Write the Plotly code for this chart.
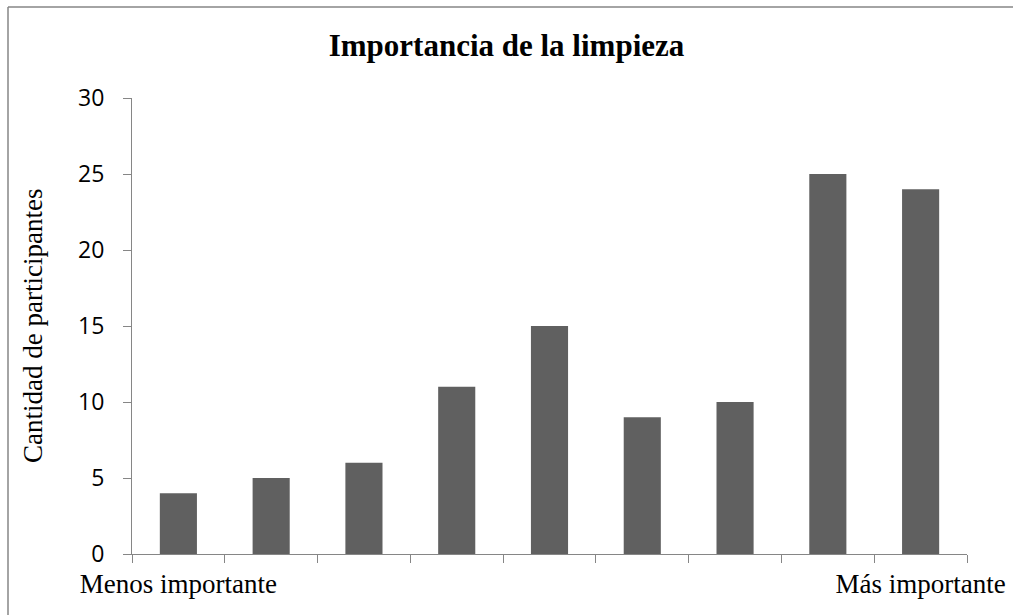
import plotly.graph_objects as go

categories = ["1", "2", "3", "4", "5", "6", "7", "8", "9"]
values = [4, 5, 6, 11, 15, 9, 10, 25, 24]
tick_labels = ["Menos importante", "", "", "", "", "", "", "", "Más importante"]
y_ticks = [0, 5, 10, 15, 20, 25, 30]

W, H = 1013, 615
ml, mr, mt, mb = 132, 46, 98, 61
pw, ph = W - ml - mr, H - mt - mb

axis_col = "#868686"
serif = "Liberation Serif, Times New Roman, serif"
sans = "Open Sans, sans-serif"

fig = go.Figure(go.Bar(x=categories, y=values, marker=dict(color="#606060", line=dict(width=0))))

fig.update_layout(
    width=W, height=H,
    margin=dict(l=ml, r=mr, t=mt, b=mb, autoexpand=False),
    paper_bgcolor="white", plot_bgcolor="white",
    bargap=0.6,
    showlegend=False,
    title=dict(text="<b>Importancia de la limpieza</b>", x=0.5, xref="container", xanchor="center",
               y=1 - 45 / H, yref="container", yanchor="middle",
               font=dict(family=serif, size=31, color="black")),
)
fig.update_xaxes(
    type="category", tickmode="array", tickvals=categories, ticktext=tick_labels,
    tickson="boundaries", ticks="outside", ticklen=8, tickcolor=axis_col, tickwidth=1,
    showline=True, linecolor=axis_col, linewidth=1, showgrid=False, zeroline=False,
    tickangle=0, automargin=False,
    tickfont=dict(family=serif, size=27, color="black"), ticklabelstandoff=6,
)
fig.update_yaxes(
    range=[0, 30], tickmode="array", tickvals=y_ticks,
    ticks="outside", ticklen=8, tickcolor=axis_col, tickwidth=1,
    showline=True, linecolor=axis_col, linewidth=1, showgrid=False, zeroline=False,
    automargin=False,
    tickfont=dict(family=sans, size=23, color="black"), ticklabelstandoff=14,
)
fig.add_annotation(
    text="Cantidad de participantes", textangle=-90,
    xref="paper", yref="paper", x=(33 - ml) / pw, y=0.5, xanchor="center", yanchor="middle",
    showarrow=False, font=dict(family=serif, size=27, color="black"),
)
top_y = (H - mb - 7) / ph
left_x = (8 - ml) / pw
fig.add_shape(type="line", xref="paper", yref="paper", x0=left_x, x1=(W + 10 - ml) / pw,
              y0=top_y, y1=top_y, line=dict(color=axis_col, width=1.5), layer="below")
fig.add_shape(type="line", xref="paper", yref="paper", x0=left_x, x1=left_x,
              y0=-(mb + 10) / ph, y1=top_y, line=dict(color=axis_col, width=1.5), layer="below")

fig.write_html("out.html")
